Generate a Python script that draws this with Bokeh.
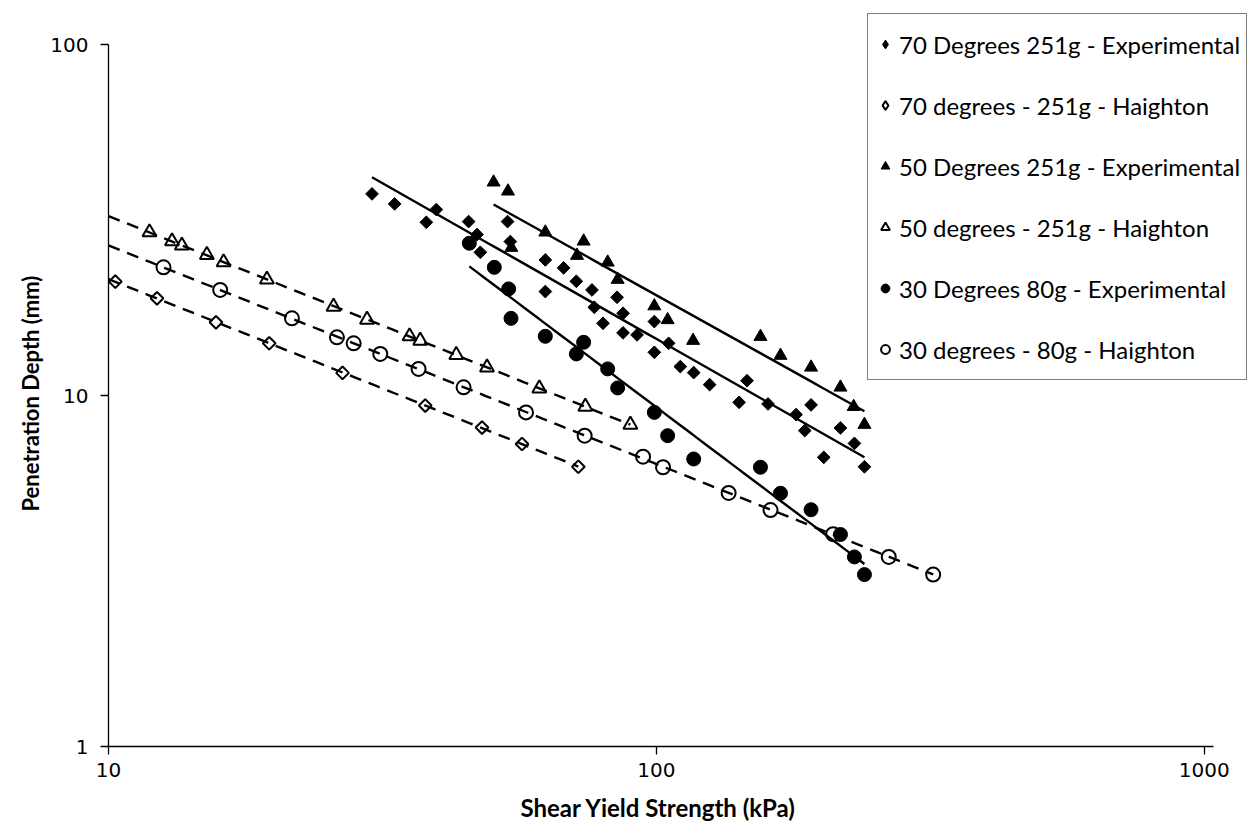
import numpy as np
from bokeh.plotting import figure
from bokeh.models import (Range1d, FixedTicker, Legend, LegendItem, PrintfTickFormatter,
                          ColumnDataSource, Title)
from bokeh.embed import file_html
from bokeh.resources import INLINE

# ---------------- data ----------------
# 70 Degrees 251g - Experimental
exp70_x = [30.27, 33.29, 39.66, 38.03, 45.43, 53.51, 47.06, 47.72, 54.13, 62.71, 67.73, 62.71,
           71.44, 76.30, 84.79, 77.04, 86.94, 79.92, 86.94, 92.21, 99.16, 105.3, 99.16, 110.6,
           117.0, 125.1, 146.4, 141.6, 159.9, 179.9, 191.6, 186.6, 216.8, 202.1, 229.9, 239.8]
exp70_y = [37.59, 35.20, 33.91, 31.20, 31.34, 31.34, 28.79, 25.62, 27.49, 24.37, 23.13, 19.80,
           21.18, 20.01, 19.07, 17.86, 17.17, 16.08, 15.10, 14.90, 16.26, 14.10, 13.29, 12.10,
           11.63, 10.75, 11.03, 9.57, 9.47, 8.83, 9.41, 7.95, 8.09, 6.67, 7.31, 6.27]

# 70 degrees - 251g - Haighton
hai70_x = [10.29, 12.26, 15.71, 19.65, 26.74, 37.86, 48.06, 56.86, 72.04]
hai70_y = [21.14, 18.94, 16.18, 14.10, 11.61, 9.37, 8.11, 7.28, 6.27]

# 50 Degrees 251g - Experimental
exp50_x = [50.46, 53.60, 54.36, 62.71, 73.67, 71.65, 81.51, 84.99, 99.16, 104.86, 116.7,
           154.9, 168.5, 191.6, 216.8, 229.2, 239.8]
exp50_y = [40.57, 38.24, 26.42, 29.22, 27.54, 25.07, 23.99, 21.42, 18.00, 16.44, 14.35,
           14.73, 13.01, 12.04, 10.56, 9.30, 8.27]

# 50 degrees - 251g - Haighton
hai50_x = [11.88, 13.06, 13.61, 15.12, 16.22, 19.46, 25.75, 29.64, 35.44, 37.07, 43.13,
           49.08, 61.15, 74.20, 89.66]
hai50_y = [29.22, 27.54, 26.78, 25.19, 23.99, 21.42, 17.94, 16.47, 14.76, 14.35, 13.07,
           12.04, 10.49, 9.30, 8.27]

# 30 Degrees 80g - Experimental
exp30_x = [45.56, 50.61, 53.75, 54.29, 62.71, 73.67, 71.44, 81.51, 84.99, 99.16, 104.86,
           117.0, 154.9, 168.5, 191.6, 216.8, 229.9, 239.8]
exp30_y = [27.19, 23.21, 20.15, 16.61, 14.76, 14.19, 13.15, 11.92, 10.52, 8.96, 7.69,
           6.60, 6.25, 5.27, 4.73, 4.02, 3.47, 3.09]

# 30 degrees - 80g - Haighton
hai30_x = [12.60, 15.99, 21.62, 26.12, 28.02, 31.34, 36.81, 44.48, 57.82, 73.98, 94.56,
           102.85, 135.5, 161.6, 210.2, 265.6, 320.1]
hai30_y = [23.21, 20.01, 16.61, 14.66, 14.10, 13.15, 11.92, 10.56, 8.96, 7.69, 6.70,
           6.25, 5.28, 4.72, 4.03, 3.47, 3.09]

x_ticks = [10, 100, 1000]
y_ticks = [1, 10, 100]
X_AXIS = (10, 1040)      # extent of the drawn x axis line
Y_AXIS = (1, 100)        # extent of the drawn y axis line
X_VIEW = (10, 1220)      # view range (room for the legend box)
Y_VIEW = (1, 122.8)

x_title = "Shear Yield Strength (kPa)"
y_title = "Penetration Depth (mm)"
labels = ["70 Degrees 251g - Experimental", "70 degrees - 251g - Haighton",
          "50 Degrees 251g - Experimental", "50 degrees - 251g - Haighton",
          "30 Degrees 80g - Experimental", "30 degrees - 80g - Haighton"]


def power_fit(xs, ys, x0, x1, n=60):
    b, loga = np.polyfit(np.log10(xs), np.log10(ys), 1)
    xx = np.logspace(np.log10(x0), np.log10(x1), n)
    return xx, (10 ** loga) * xx ** b


FONT = "Lato"

p = figure(width=1259, height=835, x_axis_type="log", y_axis_type="log",
           x_range=Range1d(*X_VIEW), y_range=Range1d(*Y_VIEW),
           output_backend="svg", toolbar_location=None,
           min_border_left=108, min_border_right=8, min_border_top=13, min_border_bottom=89)
p.outline_line_color = None
p.xgrid.grid_line_color = None
p.ygrid.grid_line_color = None
p.background_fill_color = "white"
p.border_fill_color = "white"

for ax, ticks, bnds in ((p.xaxis[0], x_ticks, X_AXIS), (p.yaxis[0], y_ticks, Y_AXIS)):
    ax.ticker = FixedTicker(ticks=ticks, minor_ticks=[])
    ax.formatter = PrintfTickFormatter(format="%d")
    ax.bounds = bnds
    ax.axis_line_color = "black"
    ax.axis_line_width = 1.3
    ax.major_tick_line_color = "black"
    ax.major_tick_line_width = 1.3
    ax.major_tick_in = 0
    ax.major_tick_out = 8
    ax.minor_tick_line_color = None
    ax.major_label_text_font = "DejaVu Sans"
    ax.major_label_text_font_size = "20px"
    ax.major_label_text_color = "black"

p.xaxis.major_label_standoff = 8
p.yaxis.major_label_standoff = 12

# axis titles, centred on the drawn axes rather than on the whole frame
p.add_layout(Title(text=x_title, align="left", offset=412, standoff=22,
                   text_font=FONT, text_font_style="bold", text_font_size="24px",
                   text_color="black"), "below")
p.add_layout(Title(text=y_title, align="left", offset=235, standoff=8,
                   text_font=FONT, text_font_style="bold", text_font_size="22px",
                   text_color="black"), "left")

# ---- trend lines ----
for xs, ys in ((exp70_x, exp70_y), (exp50_x, exp50_y), (exp30_x, exp30_y)):
    lx, ly = power_fit(xs, ys, min(xs), max(xs))
    p.line(lx, ly, line_color="black", line_width=2.4)

for xs, ys in ((hai70_x, hai70_y), (hai50_x, hai50_y), (hai30_x, hai30_y)):
    lx, ly = power_fit(xs, ys, X_AXIS[0], max(xs))
    p.line(lx, ly, line_color="black", line_width=2.4, line_dash="12 8")

# ---- markers ----
r_e70 = p.scatter(exp70_x, exp70_y, marker="square", angle=np.pi / 4, size=9,
                  fill_color="black", line_color="black", line_width=1)
r_h70 = p.scatter(hai70_x, hai70_y, marker="square", angle=np.pi / 4, size=9,
                  fill_color=None, line_color="black", line_width=2)
r_e50 = p.scatter(exp50_x, exp50_y, marker="triangle", size=13,
                  fill_color="black", line_color="black", line_width=1)
r_h50 = p.scatter(hai50_x, hai50_y, marker="triangle", size=14,
                  fill_color=None, line_color="black", line_width=2)
r_e30 = p.scatter(exp30_x, exp30_y, marker="circle", size=14,
                  fill_color="black", line_color="black", line_width=1)
r_h30 = p.scatter(hai30_x, hai30_y, marker="circle", size=14,
                  fill_color=None, line_color="black", line_width=2)

# legend proxies for the diamond series (the legend draws markers un-rotated);
# they hold no visible point
proxy = dict(x=[np.nan], y=[np.nan])
lg_e70 = p.scatter("x", "y", source=ColumnDataSource(proxy), marker="diamond",
                   fill_color="black", line_color="black", line_width=1)
lg_h70 = p.scatter("x", "y", source=ColumnDataSource(proxy), marker="diamond",
                   fill_color=None, line_color="black", line_width=2)

items = [LegendItem(label=labels[0], renderers=[lg_e70]),
         LegendItem(label=labels[1], renderers=[lg_h70]),
         LegendItem(label=labels[2], renderers=[r_e50]),
         LegendItem(label=labels[3], renderers=[r_h50]),
         LegendItem(label=labels[4], renderers=[r_e30]),
         LegendItem(label=labels[5], renderers=[r_h30])]

legend = Legend(items=items, location=(759, 366), orientation="vertical",
                border_line_color="black", border_line_width=1.5,
                background_fill_color="white", background_fill_alpha=1,
                padding=6, margin=0, spacing=13,
                glyph_width=22, glyph_height=48, label_height=48,
                label_standoff=3, label_text_font=FONT, label_text_font_size="24px",
                label_text_color="black", label_text_baseline="middle")
p.add_layout(legend, "center")

open("out.html", "w").write(file_html(p, INLINE))
